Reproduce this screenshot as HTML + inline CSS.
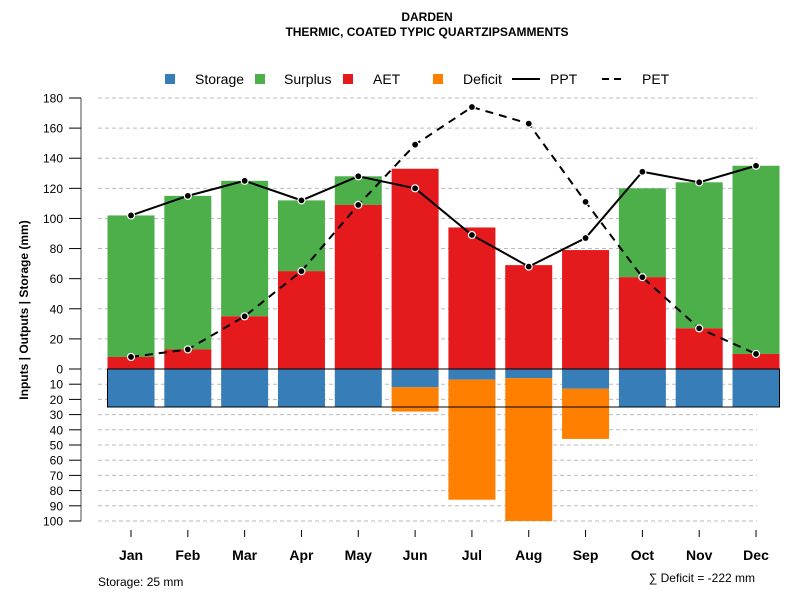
<!DOCTYPE html>
<html><head><meta charset="utf-8"><style>
body{margin:0;background:#fff}
svg text{font-family:"Liberation Sans",sans-serif}
</style></head><body>
<svg id="c" width="800" height="600" xmlns="http://www.w3.org/2000/svg">
<text x="427" y="21" text-anchor="middle" font-size="12" font-weight="bold">DARDEN</text>
<text x="427" y="36" text-anchor="middle" font-size="12" font-weight="bold">THERMIC, COATED TYPIC QUARTZIPSAMMENTS</text>
<g font-size="14">
<rect x="165" y="74" width="10" height="10" fill="#377EB8"/><text x="195" y="84">Storage</text>
<rect x="255" y="74" width="10" height="10" fill="#4DAF4A"/><text x="284" y="84">Surplus</text>
<rect x="343" y="74" width="10" height="10" fill="#E41A1C"/><text x="373" y="84">AET</text>
<rect x="433" y="74" width="10" height="10" fill="#FF7F00"/><text x="463" y="84">Deficit</text>
<line x1="512" y1="79" x2="540" y2="79" stroke="#000" stroke-width="2"/><text x="550" y="84">PPT</text>
<line x1="602" y1="79" x2="626" y2="79" stroke="#000" stroke-width="2" stroke-dasharray="7,5"/><text x="642" y="84">PET</text>
</g>
<text transform="translate(28,310) rotate(-90)" text-anchor="middle" font-size="12" font-weight="bold">Inputs | Outputs | Storage    (mm)</text>
<text x="98" y="586" font-size="12">Storage: 25 mm</text>
<text x="755" y="582" text-anchor="end" font-size="12">∑ Deficit = -222 mm</text>
<g id="g"></g>
</svg>
<script>
const months=["Jan","Feb","Mar","Apr","May","Jun","Jul","Aug","Sep","Oct","Nov","Dec"];
const ppt=[102,115,125,112,128,120,89,68,87,131,124,135];
const pet=[8,13,35,65,109,149,174,163,111,61,27,10];
const aet=[8,13,35,65,109,133,94,69,79,61,27,10];
const surplusTop=[102,115,125,112,128,0,0,0,0,120,124,135];
const storage=[25,25,25,25,25,12,7,6,13,25,25,25];
const deficit=[0,0,0,0,0,16,79,94,33,0,0,0];
const upTicks=[0,20,40,60,80,100,120,140,160,180];
const downTicks=[10,20,30,40,50,60,70,80,90,100];
const capacity=25;
const NS="http://www.w3.org/2000/svg";
const g=document.getElementById('g');
const y0=369;
const yUp=v=>y0-v*(271/180);
const yDn=v=>y0+v*1.52;
const xC=i=>131+i*56.82;
const bw=47;
function mk(t,a){const e=document.createElementNS(NS,t);for(const k in a)e.setAttribute(k,a[k]);g.appendChild(e);return e;}
// grid
upTicks.forEach(v=>{const l=mk('line',{x1:98,x2:757,y1:yUp(v),y2:yUp(v),stroke:'#bbb','stroke-dasharray':'4,3'});

});
downTicks.forEach(v=>{const l=mk('line',{x1:98,x2:757,y1:yDn(v),y2:yDn(v),stroke:'#bbb','stroke-dasharray':'4,3'});

});
// axis
const ax=mk('line',{x1:81,x2:81,y1:yUp(180),y2:yDn(100),stroke:'#888','stroke-width':1.5});


function tick(y,lab){const t=mk('line',{x1:69,x2:81,y1:y,y2:y,stroke:'#000'});


const tx=mk('text',{x:63,y:y+4.5,'text-anchor':'end','font-size':12});tx.textContent=lab;

}
upTicks.forEach(v=>tick(yUp(v),v));
downTicks.forEach(v=>tick(yDn(v),v));
months.forEach((m,i)=>{const x=xC(i);
const t=mk('line',{x1:x,x2:x,y1:530,y2:537,stroke:'#000'});


const tx=mk('text',{x:x,y:560,'text-anchor':'middle','font-size':14,'font-weight':'bold'});tx.textContent=m;


if(surplusTop[i]>aet[i]){const r=mk('rect',{x:x-bw/2,y:yUp(surplusTop[i]),width:bw,height:yUp(aet[i])-yUp(surplusTop[i]),fill:'#4DAF4A'});

}
const a=mk('rect',{x:x-bw/2,y:yUp(aet[i]),width:bw,height:y0-yUp(aet[i]),fill:'#E41A1C'});


const s=mk('rect',{x:x-bw/2,y:y0,width:bw,height:yDn(storage[i])-y0,fill:'#377EB8'});


if(deficit[i]>0){const d=mk('rect',{x:x-bw/2,y:yDn(storage[i]),width:bw,height:yDn(storage[i]+deficit[i])-yDn(storage[i]),fill:'#FF7F00'});

}
});
const box=mk('rect',{x:xC(0)-bw/2,y:y0,width:xC(11)+bw/2-(xC(0)-bw/2),height:yDn(capacity)-y0,fill:'none',stroke:'#000','stroke-width':1});


function series(arr,name,dash){const p=arr.map((v,i)=>xC(i)+','+yUp(v)).join(' ');
const l=mk('polyline',{points:p,fill:'none',stroke:'#000','stroke-width':2,'stroke-dasharray':dash});


arr.forEach((v,i)=>{const c=mk('circle',{cx:xC(i),cy:yUp(v),r:3.5,fill:'#000',stroke:'#fff','stroke-width':1.2});

});}
series(pet,'pet','8,6');
series(ppt,'ppt','none');
</script>
</body></html>
